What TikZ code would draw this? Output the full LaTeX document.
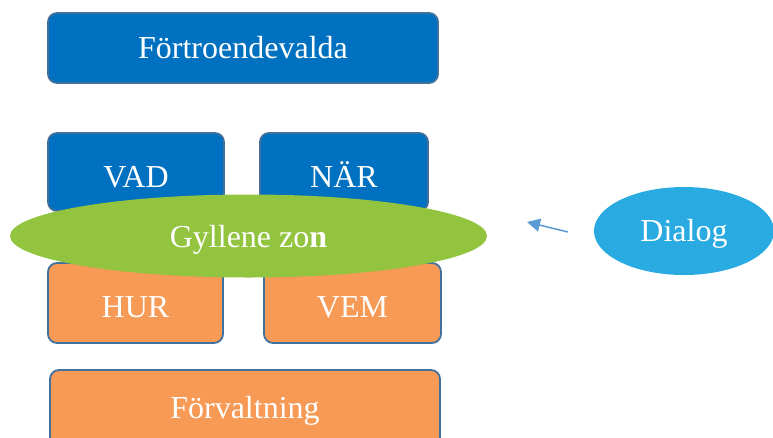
\documentclass[tikz,border=0pt]{standalone}
\usepackage{fontspec}
\setmainfont{Liberation Serif}
\usetikzlibrary{shapes.geometric,arrows.meta}
\definecolor{boxblue}{HTML}{0070C0}
\definecolor{boxorange}{HTML}{F79A55}
\definecolor{boxborder}{HTML}{41719C}
\definecolor{zongreen}{HTML}{92C43F}
\definecolor{dialogblue}{HTML}{29ABE2}
\definecolor{arrowblue}{HTML}{5B9BD5}
\tikzset{
  box/.style={draw=boxborder, line width=1.8pt, rounded corners=9pt, inner sep=0pt,
    text=white, font=\fontsize{32}{34}\selectfont, text height=21pt, text depth=0pt},
  bluebox/.style={box, fill=boxblue},
  orangebox/.style={box, fill=boxorange},
  oval/.style={ellipse, inner sep=0pt, text=white, font=\fontsize{32}{34}\selectfont,
    text height=21pt, text depth=0pt},
}
\begin{document}
\begin{tikzpicture}[x=1pt,y=-1pt]
\clip (0,0) rectangle (773,437);
\fill[white] (0,0) rectangle (773,437);
\node[bluebox, minimum width=390pt, minimum height=70pt] (top) at (243,48) {Förtroendevalda};
\node[bluebox, minimum width=176pt, minimum height=78pt, text height=31pt] (vad) at (136,172) {VAD};
\node[bluebox, minimum width=168pt, minimum height=78pt, text height=31pt] (nar) at (344,172) {NÄR};
\node[orangebox, minimum width=175pt, minimum height=80pt, text height=29pt] (hur) at (135.5,303) {HUR};
\node[orangebox, minimum width=177pt, minimum height=80pt, text height=29pt] (vem) at (352.5,303) {VEM};
\node[orangebox, minimum width=390pt, minimum height=76pt] (forv) at (245,408) {Förvaltning};
\node[oval, fill=zongreen, minimum width=477pt, minimum height=83pt, text height=23pt] (zon) at (248.5,236) {Gyllene zo\textbf{n}};
\node[oval, fill=dialogblue, minimum width=180pt, minimum height=88pt] (dialog) at (684,231) {Dialog};
\coordinate (astart) at (568,232);
\coordinate (aend) at (527,222);
\draw[arrowblue, line width=1.5pt, -{Triangle[length=13pt,width=13pt]}] (astart) -- (aend);
\end{tikzpicture}
\end{document}
